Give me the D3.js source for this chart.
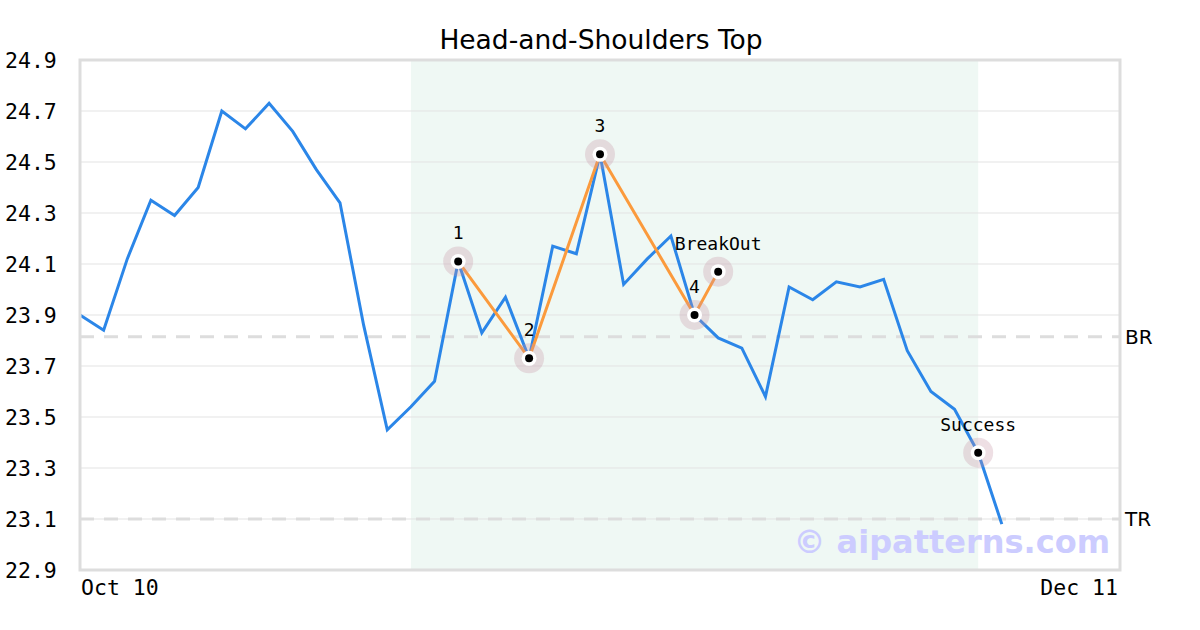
<!DOCTYPE html>
<html><head><meta charset="utf-8">
<script src="https://cdn.jsdelivr.net/npm/d3@7"></script>
<style>body{margin:0;background:#fff}</style>
</head><body>
<svg id="c" width="1200" height="630"></svg>
<script>
const title = "Head-and-Shoulders Top";
const prices = [23.90,23.84,24.12,24.35,24.29,24.40,24.70,24.63,24.73,24.62,24.47,24.34,23.86,23.45,23.54,23.64,24.11,23.83,23.97,23.73,24.17,24.14,24.53,24.02,24.12,24.21,23.90,23.81,23.77,23.58,24.01,23.96,24.03,24.01,24.04,23.76,23.60,23.53,23.36,23.08];
const slotCount = 45;
const xTickLabels = ["Oct 10","Dec 11"];
const yTicks = [22.9,23.1,23.3,23.5,23.7,23.9,24.1,24.3,24.5,24.7,24.9];
const patternIdx = [16,19,22,26,27];
const patternVal = [24.11,23.73,24.53,23.90,24.07];
const patternLabels = ["1","2","3","4","BreakOut"];
const successIdx = [38];
const successVal = [23.36];
const successLabels = ["Success"];
const shadeRange = [14,38];
const levelNames = ["BR","TR"];
const levelVals = [23.815,23.10];

const svg = d3.select("#c");
const L=80,R=1120,T=60,B=570;
const x = d3.scaleLinear().domain([0,slotCount-1]).range([L,R]);
const y = d3.scaleLinear().domain([22.9,24.9]).range([B,T]);

svg.append("text").attr("x",601).attr("y",49).attr("text-anchor","middle")
  .attr("font-family","DejaVu Sans").attr("font-size",26.5).attr("fill","#000").text(title);

svg.append("rect").attr("x",x(shadeRange[0])).attr("y",T).attr("width",x(shadeRange[1])-x(shadeRange[0])).attr("height",B-T).attr("fill","#eff8f4");

svg.append("g").selectAll("line").data(yTicks.slice(1,-1)).join("line")
  .attr("x1",L).attr("x2",R).attr("y1",d=>y(d)).attr("y2",d=>y(d)).attr("stroke","#e3e3e3").attr("stroke-width",1);

svg.append("g").selectAll("text").data(yTicks).join("text")
  .attr("x",5).attr("y",d=>y(d)+7.5).attr("font-family","DejaVu Sans Mono").attr("font-size",21.5).attr("fill","#000")
  .text(d=>d.toFixed(1));

svg.append("text").attr("x",L+1).attr("y",595).attr("font-family","DejaVu Sans Mono").attr("font-size",21.5).text(xTickLabels[0]);
svg.append("text").attr("x",R-2).attr("y",595).attr("text-anchor","end").attr("font-family","DejaVu Sans Mono").attr("font-size",21.5).text(xTickLabels[1]);

svg.append("g").selectAll("line").data(levelVals).join("line")
  .attr("x1",L).attr("x2",R).attr("y1",d=>y(d)).attr("y2",d=>y(d))
  .attr("stroke","#dddddd").attr("stroke-width",3).attr("stroke-dasharray","14,10");
svg.append("g").selectAll("text").data(levelVals).join("text")
  .attr("x",R+5).attr("y",d=>y(d)+7).attr("font-family","DejaVu Sans").attr("font-size",20).text((d,i)=>levelNames[i]);

svg.append("text").attr("x",1110).attr("y",553).attr("text-anchor","end").attr("font-family","DejaVu Sans").attr("font-weight","bold")
  .attr("font-size",32).attr("fill","#ccccff").text("© aipatterns.com");

svg.append("path").datum(prices).attr("fill","none").attr("stroke","#2b86e8").attr("stroke-width",3)
  .attr("d",d3.line().x((d,i)=>x(i)).y(d=>y(d)));

svg.append("path").datum(patternIdx).attr("fill","none").attr("stroke","#fb9a3c").attr("stroke-width",3)
  .attr("d",d3.line().x(d=>x(d)).y((d,i)=>y(patternVal[i])));

function markers(idx, vals, labels){
  const g = svg.append("g");
  idx.forEach((d,i)=>{
    const cx=x(d), cy=y(vals[i]);
    g.append("circle").attr("cx",cx).attr("cy",cy).attr("r",15).attr("fill","rgba(200,150,165,0.3)");
    g.append("circle").attr("cx",cx).attr("cy",cy).attr("r",7.5).attr("fill","#fff");
    g.append("circle").attr("cx",cx).attr("cy",cy).attr("r",4).attr("fill","#000");
    g.append("text").attr("x",cx).attr("y",cy-22).attr("text-anchor","middle").attr("font-family","DejaVu Sans Mono")
      .attr("font-size",18).attr("fill","#000").text(labels[i]);
  });
}
markers(patternIdx,patternVal,patternLabels);
markers(successIdx,successVal,successLabels);

svg.append("rect").attr("x",L).attr("y",T).attr("width",R-L).attr("height",B-T).attr("fill","none").attr("stroke","#dddddd").attr("stroke-width",3);
</script>
</body></html>
